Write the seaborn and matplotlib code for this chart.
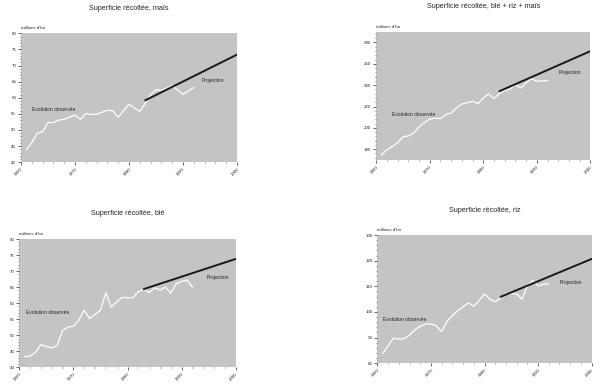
import numpy as np
import pandas as pd
import seaborn as sns
import matplotlib.pyplot as plt
from matplotlib.ticker import MultipleLocator

# Observed harvested area (millions d'ha), 1961-1992
years_obs = list(range(1961, 1993))
maize_obs = [43.9, 46.1, 49.0, 49.5, 52.3, 52.3, 53.1, 53.3, 54.0, 54.6, 53.3, 55.1, 54.8, 54.9, 55.5, 56.1,
             56.0, 53.9, 56.0, 58.0, 56.8, 55.7, 58.3, 60.9, 62.5, 62.3, 63.0, 63.8, 62.4, 61.1, 62.1, 63.2]
total_obs = [174.7, 179.4, 182.5, 186.0, 191.5, 192.5, 195.0, 201.0, 205.0, 208.2, 209.0, 208.6, 212.3, 213.9,
             218.6, 222.4, 223.5, 224.9, 222.7, 228.0, 231.8, 227.4, 232.1, 234.9, 236.5, 240.6, 237.4, 242.1,
             245.9, 243.7, 244.0, 244.3]
wheat_obs = [43.4, 43.5, 44.7, 47.1, 46.5, 46.1, 46.8, 51.5, 52.6, 52.8, 54.7, 57.8, 55.2, 56.5, 57.8, 63.2,
             58.8, 60.4, 61.8, 61.7, 61.7, 63.6, 64.3, 63.3, 64.8, 64.1, 65.0, 63.1, 66.1, 66.8, 67.2, 65.0]
rice_obs = [83.8, 86.8, 89.8, 89.4, 89.6, 91.0, 93.0, 94.4, 95.3, 95.3, 94.6, 92.3, 96.3, 98.5, 100.5, 102.0,
            103.5, 102.2, 104.5, 107.0, 105.0, 104.0, 105.4, 107.2, 107.2, 107.0, 105.0, 110.2, 112.4, 110.2,
            110.8, 111.1]

# Projections
years_proj = [1983, 2000]
maize_proj = [59.2, 73.4]
total_proj = [234.3, 271.9]
wheat_proj = [64.4, 73.8]
rice_proj = [105.9, 120.7]

titles = ["Superficie récoltée, maïs", "Superficie récoltée, blé + riz + maïs",
          "Superficie récoltée, blé", "Superficie récoltée, riz"]

panels = [
    # obs, proj, ylim, ystep, yminor, label positions, axes rect
    (maize_obs, maize_proj, (40, 80), 5, 1, (1962.1, 56.3), (1993.4, 65.3), [0.035, 0.582, 0.36, 0.332]),
    (total_obs, total_proj, (170, 290), 20, 4, (1962.9, 212.3), (1994.0, 252.0), [0.627, 0.588, 0.357, 0.330]),
    (wheat_obs, wheat_proj, (40, 80), 5, 1, (1961.2, 57.1), (1994.6, 68.1), [0.032, 0.053, 0.361, 0.331]),
    (rice_obs, rice_proj, (80, 130), 10, 2, (1961.1, 97.2), (1994.1, 111.6), [0.629, 0.064, 0.357, 0.330]),
]

sns.set_theme(style="ticks")
plt.rcParams['font.family'] = ['Liberation Sans', 'DejaVu Sans']

fig = plt.figure(figsize=(6, 3.88), dpi=100)

for title, (obs, proj, ylim, ystep, yminor, lab_obs, lab_proj, rect) in zip(titles, panels):
    ax = fig.add_axes(rect)
    ax.set_facecolor('#c4c4c4')
    df_obs = pd.DataFrame({'year': years_obs, 'area': obs})
    df_proj = pd.DataFrame({'year': years_proj, 'area': proj})
    sns.lineplot(data=df_obs, x='year', y='area', ax=ax, color='white', lw=0.9)
    sns.lineplot(data=df_proj, x='year', y='area', ax=ax, color='#1a1a1a', lw=1.4)

    ax.set_xlim(1960, 2000)
    ax.set_ylim(*ylim)
    ax.set_xticks([1960, 1970, 1980, 1990, 2000])
    ax.xaxis.set_minor_locator(MultipleLocator(2))
    ax.yaxis.set_major_locator(MultipleLocator(ystep))
    ax.yaxis.set_minor_locator(MultipleLocator(yminor))
    ax.tick_params(axis='both', which='major', labelsize=3.2, length=2, width=0.5, pad=1.5)
    ax.tick_params(axis='both', which='minor', length=1, width=0.4)
    for lab in ax.get_xticklabels():
        lab.set_rotation(45)
        lab.set_ha('right')
        lab.set_rotation_mode('anchor')
    ax.set_xlabel('')
    ax.set_ylabel('')
    for s in ax.spines.values():
        s.set_visible(False)

    ax.text(0.0, 1.025, "millions d'ha", transform=ax.transAxes, fontsize=3.2, ha='left', va='bottom')
    ax.text(lab_obs[0], lab_obs[1], "Evolution observée", fontsize=3.6, ha='left', va='center')
    ax.text(lab_proj[0], lab_proj[1], "Projection", fontsize=3.6, ha='left', va='center')
    ax.set_title(title, fontsize=5.2, pad=17)

fig.savefig('out.png', dpi=100)
